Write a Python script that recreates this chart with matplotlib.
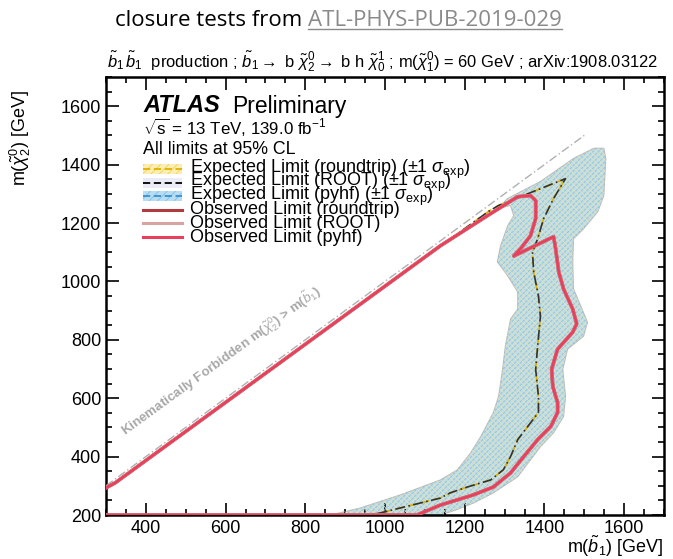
import matplotlib
matplotlib.use("Agg")
import matplotlib.pyplot as plt
from matplotlib.lines import Line2D
from matplotlib.patches import Rectangle
import numpy as np

plt.rcParams['font.family'] = ['Liberation Sans', 'DejaVu Sans']
plt.rcParams['mathtext.fontset'] = 'custom'
plt.rcParams['mathtext.rm'] = 'Liberation Sans'
plt.rcParams['mathtext.it'] = 'Liberation Sans:italic'
plt.rcParams['mathtext.bf'] = 'Liberation Sans:bold'
plt.rcParams['hatch.linewidth'] = 0.6

# observed exclusion contour (m_b1, m_chi2) in GeV
obs_x = [300, 323, 1139, 1265, 1333, 1365, 1378, 1378, 1365, 1340, 1323, 1423, 1428, 1436,
         1448, 1471, 1481, 1471, 1433, 1418, 1421, 1433, 1433, 1416, 1383, 1348, 1315, 1272,
         1222, 1139, 1080, 300]
obs_y = [293, 310, 1122, 1232, 1290, 1294, 1277, 1215, 1156, 1112, 1087, 1153, 1112, 1032,
         974, 905, 855, 826, 768, 699, 640, 585, 551, 503, 458, 400, 344, 296,
         269, 234, 200, 200]

# expected contour
exp_x = [300, 323, 1260, 1285, 1453, 1423, 1398, 1383, 1370, 1373, 1385, 1390, 1383, 1378,
         1385, 1385, 1358, 1333, 1315, 1297, 1265, 1207, 1164, 1139, 1038, 988, 951, 300]
exp_y = [295, 312, 1240, 1260, 1352, 1284, 1215, 1146, 1101, 1032, 950, 881, 778, 699,
         606, 551, 503, 458, 400, 355, 320, 296, 276, 258, 224, 207, 200, 200]

# +-1 sigma band: outer edge then inner edge
band_x = [1282, 1308, 1390, 1473, 1524, 1549, 1554, 1549, 1534, 1498, 1473, 1471, 1473, 1491,
          1508, 1498, 1458, 1446, 1453, 1448, 1423, 1390, 1365, 1333, 1272, 1222, 1177, 1139,
          863, 938, 1039, 1139, 1182, 1215, 1240, 1272, 1285, 1295, 1302, 1315, 1333, 1333,
          1308, 1282, 1290, 1308, 1323, 1315]
band_y = [1249, 1284, 1342, 1421, 1456, 1456, 1421, 1294, 1239, 1180, 1146, 1067, 974, 916,
          860, 812, 768, 699, 606, 537, 482, 434, 389, 331, 276, 241, 217, 200,
          200, 224, 269, 320, 355, 413, 468, 551, 606, 699, 778, 871, 905, 964,
          1019, 1067, 1122, 1191, 1225, 1260]

diag = [300, 1500]

exp_labels = ["Expected Limit (roundtrip) ($\\pm1\\ \\sigma_{\\mathrm{exp}}$)",
              "Expected Limit (ROOT) ($\\pm1\\ \\sigma_{\\mathrm{exp}}$)",
              "Expected Limit (pyhf) ($\\pm1\\ \\sigma_{\\mathrm{exp}}$)"]
obs_labels = ["Observed Limit (roundtrip)", "Observed Limit (ROOT)", "Observed Limit (pyhf)"]

obs_colors = ['#b03a3e', '#d9a3a3', '#e8405c']
exp_colors = ['#e0b000', 'black', '#3a8fd0']

W, H = 673, 559
fig = plt.figure(figsize=(W / 100, H / 100), dpi=100)
ax = fig.add_axes([106 / W, 1 - 515 / H, (664 - 106) / W, (515 - 77) / H])

# uncertainty band (overlaid hatches of the three tools)
ax.fill(band_x, band_y, facecolor='#c0dde8', edgecolor='#bcbcbc', lw=0.8, zorder=1)
ax.fill(band_x, band_y, facecolor='none', hatch='//////', edgecolor='#88c4e0', lw=0, zorder=2)
ax.fill(band_x, band_y, facecolor='none', hatch='\\\\\\\\\\\\', edgecolor='#e9e2b0', lw=0, zorder=2)

ax.plot(diag, diag, color='#b0b0b0', lw=1, dashes=(6, 2, 1, 2), zorder=3)

ax.plot(exp_x, exp_y, color='#e0b000', lw=1.2, dashes=(5, 3), zorder=4)
ax.plot(exp_x, exp_y, color='#333333', lw=1.2, dashes=(6, 2, 1, 2), zorder=4)
for c, lw in zip(obs_colors, [2.6, 2.3, 2.0]):
    ax.plot(obs_x, obs_y, color=c, lw=lw, solid_joinstyle='round', zorder=5)

ax.set_xlim(300, 1700)
ax.set_ylim(200, 1700)
ax.set_xticks(np.arange(400, 1700, 200))
ax.set_yticks(np.arange(200, 1700, 200))
ax.set_xticks(np.arange(300, 1701, 50), minor=True)
ax.set_yticks(np.arange(200, 1701, 50), minor=True)
ax.tick_params(which='both', direction='in', top=True, right=True, labelsize=13, width=1.2)
ax.tick_params(which='major', length=9)
ax.tick_params(which='minor', length=4.5)
for s in ax.spines.values():
    s.set_linewidth(1.8)

ax.text(591, 726, "Kinematically Forbidden m($\\tilde{\\chi}^0_2$) > m($\\tilde{b}_1$)",
        rotation=36, ha='center', va='center', fontsize=9.6, fontweight='bold',
        color='#a8a8a8', zorder=3)

def fx(px):
    return px / W

def fy(py):
    return 1 - py / H

fig.text(fx(20), fy(90), "m($\\tilde{\\chi}^0_2$) [GeV]", rotation=90, ha='center', va='top', fontsize=13)
fig.text(fx(663), fy(546), "m($\\tilde{b}_1$) [GeV]", ha='right', va='center', fontsize=13)

fig.text(fx(107), fy(62), "$\\tilde{b}_1\\,\\tilde{b}_1$  production ; $\\tilde{b}_1 \\rightarrow$ b $\\tilde{\\chi}^0_2 \\rightarrow$ b h $\\tilde{\\chi}^1_0$ ; "
         "m($\\tilde{\\chi}^0_1$) = 60 GeV ; arXiv:1908.03122", ha='left', va='center', fontsize=11.9)

# header with link-style reference
t1 = fig.text(fx(308), fy(20), "closure tests from ", ha='right', va='center', fontsize=16,
              family='Open Sans')
t2 = fig.text(fx(308), fy(20), "ATL-PHYS-PUB-2019-029", ha='left', va='center', fontsize=16,
              family='Open Sans', color='#8a8a8a')
fig.canvas.draw()
bb = t2.get_window_extent()
fig.add_artist(Line2D([bb.x0 / W, bb.x1 / W], [(bb.y0 + 2) / H] * 2, color='#8a8a8a', lw=1))

# ATLAS label block
fig.text(fx(143), fy(106), "ATLAS", fontsize=17, fontweight='bold', fontstyle='italic',
         ha='left', va='center')
fig.text(fx(232), fy(106), "Preliminary", fontsize=16.5, ha='left', va='center')
fig.text(fx(143), fy(128), "$\\sqrt{\\mathrm{s}}$ = 13 TeV, 139.0 fb$^{-1}$", fontsize=12.2,
         ha='left', va='center')
fig.text(fx(143), fy(150), "All limits at 95% CL", fontsize=12.8, ha='left', va='center')

# legend rows
band_faces = ['#fbeeb0', '#ebebf7', '#b8dcf0']
band_hatch = ['#f0d060', '#ebebf7', '#7cc0ea']
row0 = 169
dy = 13.6
for i, lab in enumerate(exp_labels):
    py = row0 + dy * i
    fig.add_artist(Rectangle((fx(143), fy(py + 5)), (182 - 143) / W, 10 / H,
                             facecolor=band_faces[i], hatch='////', edgecolor=band_hatch[i], lw=0))
    fig.add_artist(Line2D([fx(143), fx(182)], [fy(py)] * 2, color=exp_colors[i], lw=1.3,
                          dashes=(4, 2)))
    fig.text(fx(190), fy(py), lab, fontsize=13, ha='left', va='center')
for i, lab in enumerate(obs_labels):
    py = row0 + dy * (i + 3)
    fig.add_artist(Line2D([fx(143), fx(182)], [fy(py)] * 2, color=obs_colors[i], lw=2.2))
    fig.text(fx(190), fy(py), lab, fontsize=13, ha='left', va='center')

fig.savefig("out.png", dpi=100)
